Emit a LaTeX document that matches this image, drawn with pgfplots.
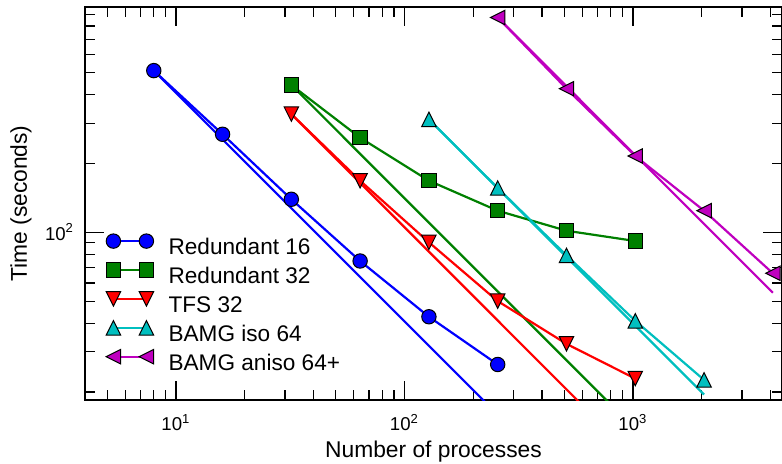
\documentclass[border=0pt]{standalone}
\usepackage{fontspec}
\setmainfont{Liberation Sans}
\usepackage{pgfplots}
\pgfplotsset{compat=1.18}

\definecolor{cblue}{rgb}{0,0,1}
\definecolor{cgreen}{rgb}{0,0.5,0}
\definecolor{cred}{rgb}{1,0,0}
\definecolor{ccyan}{rgb}{0,0.75,0.75}
\definecolor{cmag}{rgb}{0.75,0,0.75}

\pgfdeclareplotmark{mtu}{%
  \pgfpathmoveto{\pgfqpoint{0pt}{\pgfplotmarksize}}%
  \pgfpathlineto{\pgfqpoint{-\pgfplotmarksize}{-\pgfplotmarksize}}%
  \pgfpathlineto{\pgfqpoint{\pgfplotmarksize}{-\pgfplotmarksize}}%
  \pgfpathclose\pgfusepathqfillstroke}
\pgfdeclareplotmark{mtd}{%
  \pgfpathmoveto{\pgfqpoint{0pt}{-\pgfplotmarksize}}%
  \pgfpathlineto{\pgfqpoint{-\pgfplotmarksize}{\pgfplotmarksize}}%
  \pgfpathlineto{\pgfqpoint{\pgfplotmarksize}{\pgfplotmarksize}}%
  \pgfpathclose\pgfusepathqfillstroke}
\pgfdeclareplotmark{mtl}{%
  \pgfpathmoveto{\pgfqpoint{-\pgfplotmarksize}{0pt}}%
  \pgfpathlineto{\pgfqpoint{\pgfplotmarksize}{\pgfplotmarksize}}%
  \pgfpathlineto{\pgfqpoint{\pgfplotmarksize}{-\pgfplotmarksize}}%
  \pgfpathclose\pgfusepathqfillstroke}

\begin{document}
\begin{tikzpicture}
\begin{axis}[
 xmode=log, ymode=log,
 scale only axis, width=348.5pt, height=196.5pt,
 xmin=4, xmax=4492, ymin=18.46, ymax=968,
 xtick={10,100,1000}, xticklabels={10\textsuperscript{1},10\textsuperscript{2},10\textsuperscript{3}},
 minor xtick={4,5,6,7,8,9,20,30,40,50,60,70,80,90,200,300,400,500,600,700,800,900,2000,3000,4000},
 ytick={100}, yticklabels={10\textsuperscript{2}},
 minor ytick={20,30,40,50,60,70,80,90,200,300,400,500,600,700,800,900},
 tick align=inside,
 major tick length=9.5pt, minor tick length=5pt,
 tick style={black, line width=0.6pt},
 axis line style={line width=1.3pt},
 ticklabel style={font=\fontsize{9.3}{10}\selectfont},
 xticklabel style={yshift=-3.5pt},
 yticklabel style={xshift=-2pt},
 xlabel={Number of processes}, ylabel={Time (seconds)},
 every axis x label/.style={at={(axis description cs:0.5,-0.131)},anchor=center,font=\fontsize{11.4}{13}\selectfont},
 every axis y label/.style={at={(axis description cs:-0.0918,0.5)},rotate=90,anchor=center,font=\fontsize{11.4}{13}\selectfont},
 legend style={draw=none, fill=none, at={(axis description cs:0,0)}, anchor=south west,
   xshift=10.4pt, yshift=12.3pt, inner sep=0pt, row sep=1.7pt,
   font=\fontsize{11.3}{13}\selectfont,
   nodes={inner sep=0pt, text height=8pt, text depth=2.5pt},
   /tikz/every odd column/.append style={column sep=7.5pt}},
 legend cell align=left,
 legend image code/.code={\draw[#1] plot coordinates {(0pt,3.9pt) (16.5pt,3.9pt)};},
]
% ideal scaling lines
\addplot[cblue, line width=1.1pt, forget plot] coordinates {(8,510) (256,15.94)};
\addplot[cgreen, line width=1.1pt, forget plot] coordinates {(32,441) (1024,13.78)};
\addplot[cred, line width=1.1pt, forget plot] coordinates {(32,329) (1024,10.28)};
\addplot[ccyan, line width=1.1pt, forget plot] coordinates {(128,312) (2048,19.5)};
\addplot[cmag, line width=1.1pt, forget plot] coordinates {(256,871) (4096,54.4)};
% measured
\addplot[cblue, line width=1.1pt, mark=*, mark size=3.6pt, mark options={solid, draw=black, line width=0.5pt, fill=cblue}]
 coordinates {(8,510) (16,268.5) (32,139.5) (64,74.9) (128,42.7) (256,26.4)};
\addlegendentry{Redundant 16}
\addplot[cgreen, line width=1.1pt, mark=square*, mark size=3.6pt, mark options={solid, draw=black, line width=0.5pt, fill=cgreen}]
 coordinates {(32,441) (64,259.4) (128,168.2) (256,124.3) (512,101.6) (1024,91.6)};
\addlegendentry{Redundant 32}
\addplot[cred, line width=1.1pt, mark=mtd, mark size=3.6pt, mark options={solid, draw=black, line width=0.5pt, fill=cred}]
 coordinates {(32,329) (64,168.2) (128,90.4) (256,50.0) (512,32.5) (1024,22.9)};
\addlegendentry{TFS 32}
\addplot[ccyan, line width=1.1pt, mark=mtu, mark size=3.6pt, mark options={solid, draw=black, line width=0.5pt, fill=ccyan}]
 coordinates {(128,312) (256,156.3) (512,79.3) (1024,41.0) (2048,22.6)};
\addlegendentry{BAMG iso 64}
\addplot[cmag, line width=1.1pt, mark=mtl, mark size=3.6pt, mark options={solid, draw=black, line width=0.5pt, fill=cmag}]
 coordinates {(256,871) (512,425) (1024,215.7) (2048,124.3) (4096,66.2)};
\addlegendentry{BAMG aniso 64+}
\end{axis}
\pgfresetboundingbox
\useasboundingbox (-42.5pt,-31.5pt) rectangle (348.5pt,200pt);
\end{tikzpicture}
\end{document}
